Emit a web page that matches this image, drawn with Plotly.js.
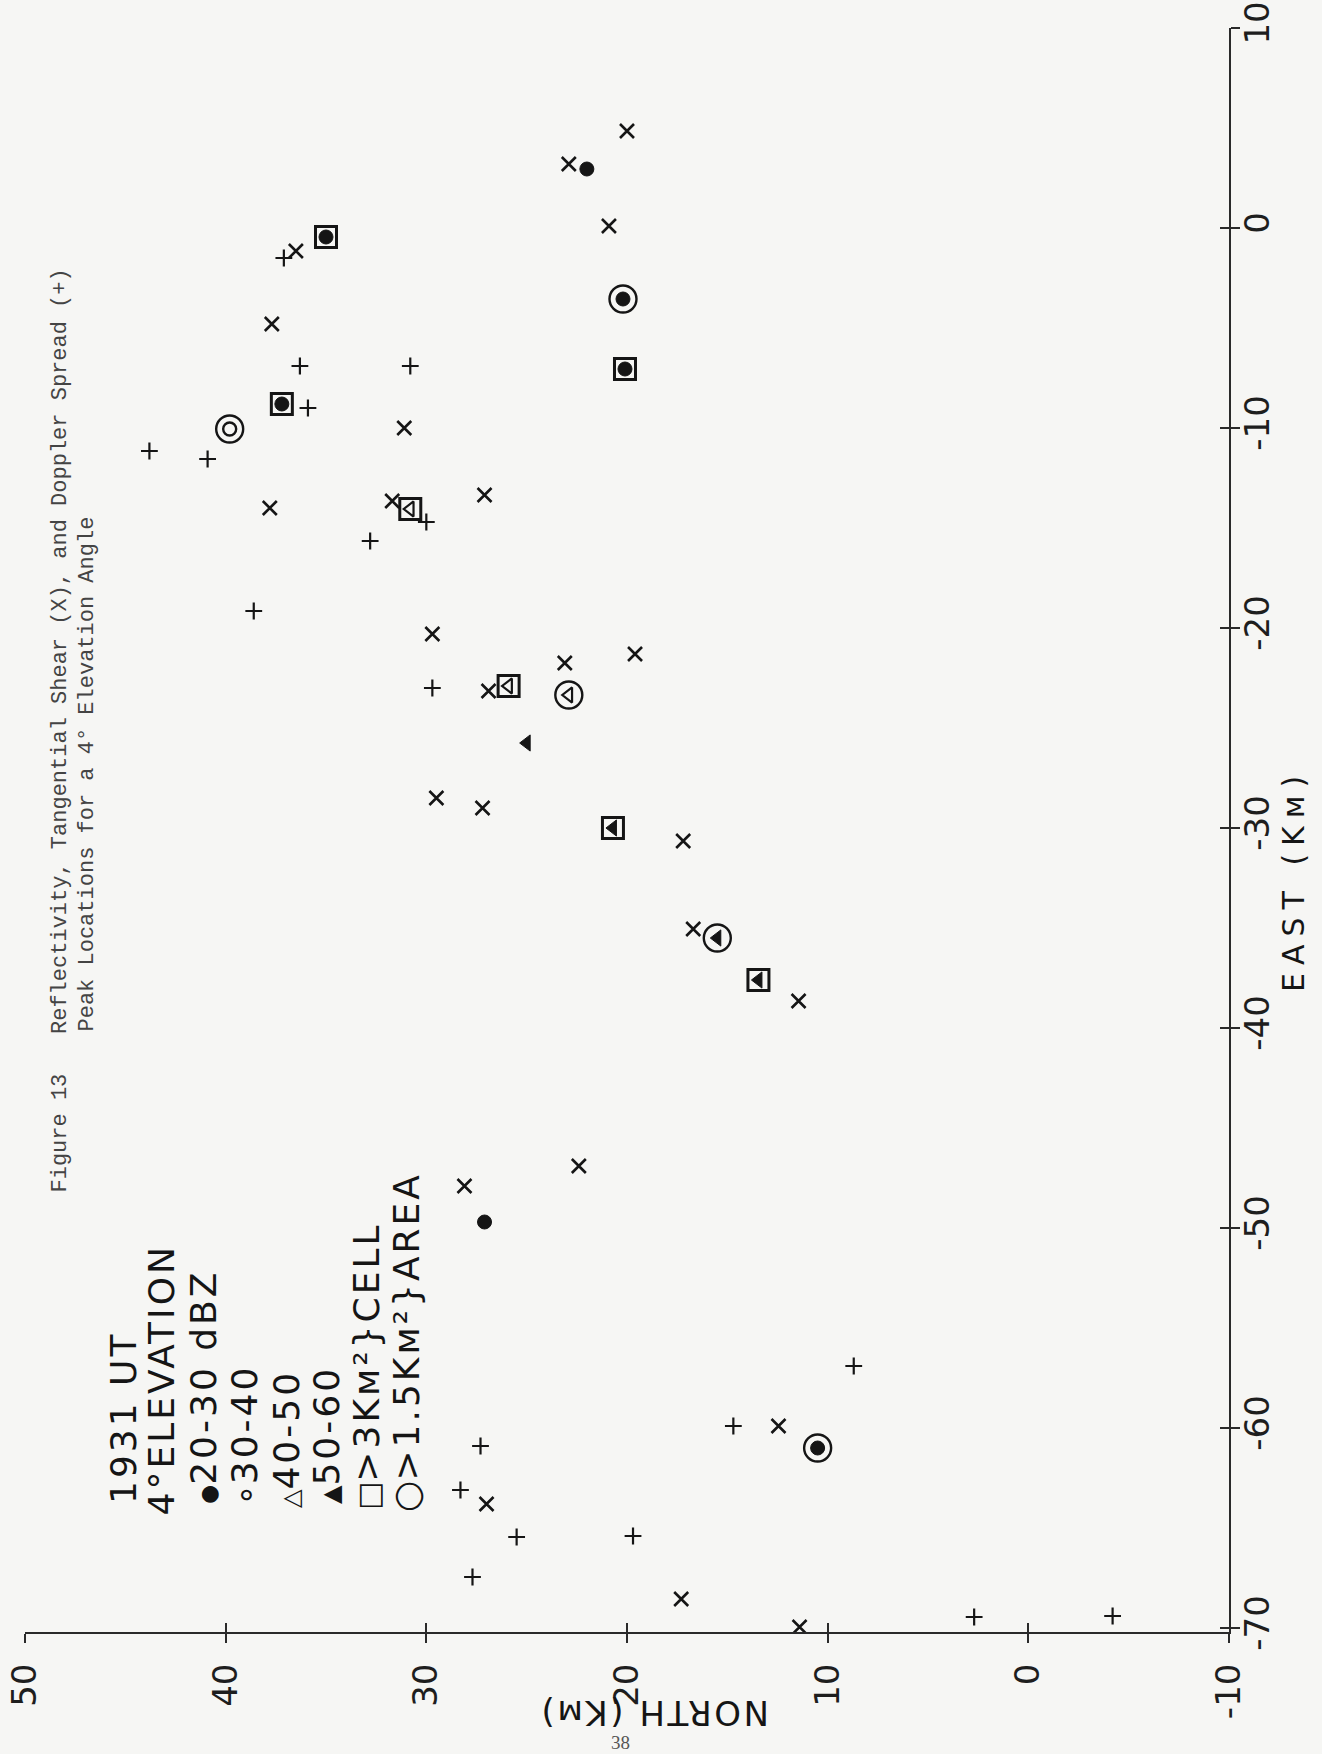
<!DOCTYPE html>
<html>
<head>
<meta charset="utf-8">
<script src="https://cdn.plot.ly/plotly-3.0.1.min.js"></script>
<style>
html,body{margin:0;padding:0;background:#f6f6f4;}
#chart{width:1322px;height:1754px;}
</style>
</head>
<body>
<div id="chart"></div>
<script>
// ---- data (North km, East km) ----
const shearNorth = [20.0, 22.9, 20.9, 36.5, 37.7, 31.1, 37.8, 31.7, 27.1, 29.7, 26.9, 23.1, 19.6, 29.5, 27.2, 17.2, 16.7, 11.45, 22.4, 28.1, 12.45, 27.0, 17.3, 11.4];
const shearEast  = [4.85, 3.2, 0.1, -1.15, -4.8, -10.0, -14.0, -13.65, -13.35, -20.3, -23.15, -21.75, -21.3, -28.5, -29.0, -30.65, -35.05, -38.65, -46.9, -47.9, -59.9, -63.8, -68.55, -69.95];

const dopplerNorth = [37.1, 36.3, 35.9, 43.8, 40.9, 30.8, 30.0, 32.8, 38.6, 29.7, 8.7, 14.7, 27.3, 28.3, 25.5, 19.7, 27.7, 2.7, -4.2];
const dopplerEast  = [-1.5, -6.9, -9.0, -11.15, -11.55, -6.9, -14.7, -15.65, -19.15, -23.0, -56.9, -59.9, -60.9, -63.1, -65.45, -65.4, -67.45, -69.45, -69.4];

const dbz20North = [22.0, 20.2, 20.1, 35.0, 37.2, 27.1, 10.5];
const dbz20East  = [2.95, -3.55, -7.05, -0.45, -8.8, -49.7, -61.0];

const dbz30North = [39.8];
const dbz30East  = [-10.05];

const dbz40North = [30.8, 25.9, 22.9];
const dbz40East  = [-14.05, -22.9, -23.35];

const dbz50North = [25.0, 20.7, 15.5, 13.45];
const dbz50East  = [-25.75, -30.0, -35.5, -37.6];

const cellNorth = [20.1, 35.0, 37.2, 30.8, 25.9, 20.7, 13.45];
const cellEast  = [-7.05, -0.45, -8.8, -14.05, -22.9, -30.0, -37.6];

const areaNorth = [20.2, 39.8, 22.9, 15.5, 10.5];
const areaEast  = [-3.55, -10.05, -23.35, -35.5, -61.0];

const northTicks = [50, 40, 30, 20, 10, 0, -10];
const eastTicks  = [10, 0, -10, -20, -30, -40, -50, -60, -70];

const titleLine1a = "Figure 13";
const titleLine1b = "Reflectivity, Tangential Shear (X), and Doppler Spread (+)";
const titleLine2  = "Peak Locations for a 4° Elevation Angle";
const legendSymbols = ["", "", "●", "∘", "△", "▲", "□", "○"];
const legendTexts   = ["1931 UT", "4°ELEVATION", "20-30 dBZ", "30-40", "40-50", "50-60", ">3Kᴍ²}CELL", ">1.5Kᴍ²}AREA"];
const northTitle = "NORTH (Kᴍ)";
const eastTitle  = "EAST (Kᴍ)";
const pageNumber = "38";

// ---- layout helpers ----
const W = 1322, H = 1754;
const L = 25, R = 1229, T = 28, B = 1632;
const px = x => (x - L) / (R - L);
const py = y => (B - y) / (B - T);
const INK = '#151515';

const xRange = [50, -10];
const yRange = [-70.2, 10];

function mk(xs, ys, symbol, size, lw) {
  return {
    type: 'scatter', mode: 'markers', x: xs, y: ys, hoverinfo: 'skip',
    marker: { symbol: symbol, size: size, color: INK, line: { color: INK, width: lw } }
  };
}

const traces = [
  mk(cellNorth, cellEast, 'square-open', 21, 3),
  mk(areaNorth, areaEast, 'circle-open', 27, 2.4),
  mk(dbz20North, dbz20East, 'circle', 14, 1),
  mk(dbz30North, dbz30East, 'circle-open', 13, 2.4),
  mk(dbz40North, dbz40East, 'triangle-left-open', 13, 2.2),
  mk(dbz50North, dbz50East, 'triangle-left', 14, 1),
  mk(shearNorth, shearEast, 'x-thin-open', 14, 2.6),
  mk(dopplerNorth, dopplerEast, 'cross-thin-open', 12, 2.2),
  { type: 'scatter', mode: 'markers', x: [], y: [], xaxis: 'x2', yaxis: 'y2', hoverinfo: 'skip' }
];

const tickFont = { family: 'DejaVu Sans, sans-serif', size: 34, color: '#1e1e1e' };

const annotations = [];
function ann(text, x, y, angle, xa, ya, font) {
  annotations.push({ text: text, xref: 'paper', yref: 'paper', x: px(x), y: py(y),
    textangle: angle, xanchor: xa, yanchor: ya, showarrow: false, borderpad: 0, font: font });
}
const monoFont = { family: 'Liberation Mono, DejaVu Sans Mono, monospace', size: 22, color: '#444' };
ann(titleLine1a, 60, 1194, -90, 'center', 'bottom', monoFont);
ann(titleLine1b, 60, 1035, -90, 'center', 'bottom', monoFont);
ann(titleLine2, 87, 1033, -90, 'center', 'bottom', monoFont);

const legFont = { family: 'DejaVu Sans, sans-serif', size: 36, color: INK };
const legX = [123, 161, 203, 244, 286, 326, 366, 406];
const legY = [1505, 1517, 1505, 1507, 1509, 1505, 1511, 1513];
const symSize = ["", "", "22px", "34px", "24px", "24px", "30px", "36px"];
legendTexts.forEach((t, i) => {
  let s = '';
  if (legendSymbols[i]) {
    s = '<span style="font-size:' + symSize[i] + '">' + legendSymbols[i] + '</span>';
  }
  ann(s + '<span style="letter-spacing:3px">' + t + '</span>', legX[i], legY[i], -90, 'center', 'bottom', legFont);
});

ann('<span style="letter-spacing:2.5px">' + northTitle + '</span>', 654, 1713, 180, 'center', 'middle',
    { family: 'DejaVu Sans, sans-serif', size: 34, color: INK });
ann('<span style="letter-spacing:8px">' + eastTitle + '</span>', 1293, 880, -90, 'center', 'middle',
    { family: 'DejaVu Sans, sans-serif', size: 30, color: INK });
ann(pageNumber, 620, 1731, 0, 'center', 'top',
    { family: 'Liberation Serif, DejaVu Serif, serif', size: 19, color: '#555' });

const baseAxis = { showgrid: false, zeroline: false, fixedrange: true };

const layout = {
  width: W, height: H, autosize: false,
  margin: { l: L, r: W - R, t: T, b: H - B, pad: 0 },
  paper_bgcolor: '#f6f6f4', plot_bgcolor: '#f6f6f4',
  showlegend: false,
  xaxis: Object.assign({}, baseAxis, {
    range: xRange, side: 'bottom', anchor: 'y',
    showline: true, linecolor: '#2a2a2a', linewidth: 2,
    tickmode: 'array', tickvals: northTicks, ticktext: northTicks.map(String),
    ticks: 'outside', ticklen: 9, tickwidth: 2, tickcolor: '#2a2a2a',
    tickangle: -90, tickfont: tickFont, ticklabelstandoff: 7
  }),
  yaxis: Object.assign({}, baseAxis, {
    range: yRange, side: 'right', anchor: 'x',
    showline: true, linecolor: '#2a2a2a', linewidth: 2,
    tickmode: 'array', tickvals: eastTicks, ticktext: eastTicks.map(String),
    ticks: 'outside', ticklen: 9, tickwidth: 2, tickcolor: '#2a2a2a',
    tickangle: -90, tickfont: tickFont, ticklabelstandoff: -12
  }),
  xaxis2: Object.assign({}, baseAxis, {
    range: xRange, overlaying: 'x', side: 'bottom', anchor: 'y2',
    showline: false, showticklabels: false,
    tickmode: 'array', tickvals: northTicks,
    ticks: 'inside', ticklen: 9, tickwidth: 2, tickcolor: '#2a2a2a'
  }),
  yaxis2: Object.assign({}, baseAxis, {
    range: yRange, overlaying: 'y', side: 'right', anchor: 'x2',
    showline: false, showticklabels: false,
    tickmode: 'array', tickvals: eastTicks,
    ticks: 'inside', ticklen: 9, tickwidth: 2, tickcolor: '#2a2a2a'
  }),
  annotations: annotations
};

Plotly.newPlot('chart', traces, layout, { staticPlot: true, displayModeBar: false });
</script>
</body>
</html>
